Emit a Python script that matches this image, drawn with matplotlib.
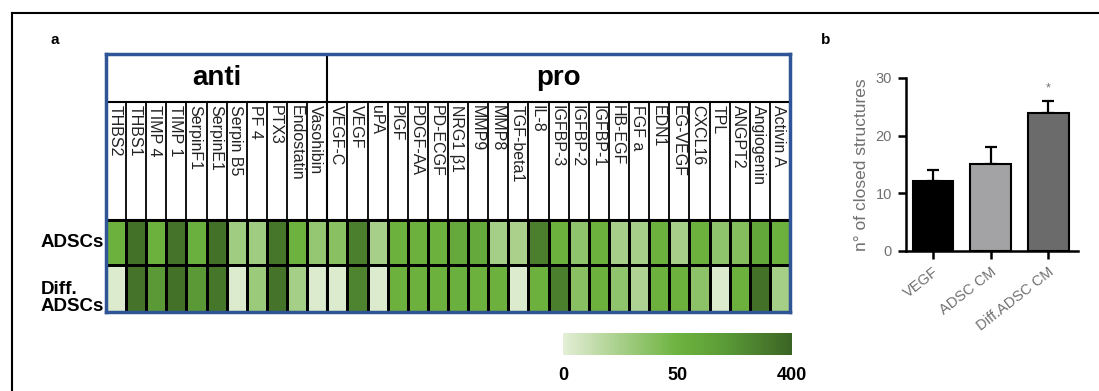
import matplotlib as mpl
import matplotlib.pyplot as plt
from matplotlib.colors import LinearSegmentedColormap, TwoSlopeNorm
from matplotlib.lines import Line2D
import numpy as np

plt.rcParams['font.family'] = ['Liberation Sans', 'DejaVu Sans']

# angiogenic factors, array layout
anti_factors = ['THBS2', 'THBS1', 'TIMP 4', 'TIMP 1', 'SerpinF1', 'SerpinE1',
                'Serpin B5', 'PF 4', 'PTX3', 'Endostatin', 'Vasohibin']
pro_factors = ['VEGF-C', 'VEGF', 'uPA', 'PlGF', 'PDGF-AA', 'PD-ECGF', 'NRG1 β1',
               'MMP9', 'MMP8', 'TGF-beta1', 'IL-8', 'IGFBP-3', 'IGFBP-2',
               'IGFBP-1', 'HB-EGF', 'FGF a', 'EDN1', 'EG-VEGF', 'CXCL16', 'TPL',
               'ANGPT2', 'Angiogenin', 'Activin A']
factors = anti_factors + pro_factors

adsc_levels = [60, 350, 60, 340, 70, 350, 28, 28, 330, 55, 33,
               38, 300, 25, 62, 60, 62, 120, 120, 26, 24, 300, 60, 35, 60,
               25, 25, 60, 25, 60, 35, 40, 130, 60]
diff_levels = [3, 340, 200, 350, 200, 330, 3, 30, 340, 26, 3,
               3, 280, 3, 60, 60, 62, 70, 60, 60, 3, 60, 300, 38, 60,
               35, 22, 60, 60, 36, 3, 60, 350, 26]
cbar_ticks = [0, 50, 400]

# tube formation assay
groups = ['VEGF', 'ADSC CM', 'Diff.ADSC CM']
closed_mean = [12.2, 15.1, 24.0]
closed_err = [1.8, 2.9, 2.0]
bar_colors = ['#000000', '#a3a3a5', '#6b6b6b']

W, H = 1099, 391


def px_rect(x0, y0, x1, y1):
    return [x0 / W, 1 - y1 / H, (x1 - x0) / W, (y1 - y0) / H]


fig = plt.figure(figsize=(W / 100, H / 100), dpi=100)

# outer frame
fig.add_artist(Line2D([12 / W, 12 / W], [0, 1 - 13 / H], color='black', lw=1.5))
fig.add_artist(Line2D([12 / W, 1], [1 - 13 / H, 1 - 13 / H], color='black', lw=1.5))

fig.text(55 / W, 1 - 40 / H, 'a', fontsize=11, fontweight='bold', ha='center', va='center')
fig.text(826 / W, 1 - 40 / H, 'b', fontsize=11, fontweight='bold', ha='center', va='center')

# ---- panel a: heatmap ----
cmap = LinearSegmentedColormap.from_list(
    'greens', [(0.0, '#e3eed6'), (0.25, '#a7cf89'), (0.5, '#6db33f'),
               (0.7, '#5c9c37'), (1.0, '#3b6424')])
norm = TwoSlopeNorm(vmin=0, vcenter=50, vmax=400)

top, head_bot, lab_bot, row_mid, bot = 54, 102, 220, 265, 312
n = len(factors)
n_anti = len(anti_factors)

ax = fig.add_axes(px_rect(106, top, 790, bot))
ax.set_xlim(0, n)
ax.set_ylim(bot, top)
mesh = ax.pcolormesh(np.arange(n + 1), [lab_bot, row_mid, bot],
                     np.array([adsc_levels, diff_levels]),
                     cmap=cmap, norm=norm, edgecolors='black', linewidth=2.0)
ax.vlines(np.arange(1, n), head_bot, lab_bot, color='black', lw=1.3)
ax.vlines(n_anti, top, bot, color='black', lw=1.5)
ax.hlines([head_bot, lab_bot], 0, n, color='black', lw=1.5)

for i, name in enumerate(factors):
    ax.text(i + 0.06, head_bot + 3, name, rotation=-90, ha='left', va='top',
            fontsize=11.5, color='#222222')

ax.text(n_anti / 2, (top + head_bot) / 2, 'anti', ha='center', va='center',
        fontsize=20, fontweight='bold')
ax.text(n_anti + (n - n_anti) / 2, (top + head_bot) / 2, 'pro', ha='center',
        va='center', fontsize=20, fontweight='bold')

ax.text(-0.1, (lab_bot + row_mid) / 2, 'ADSCs', ha='right', va='center',
        fontsize=13.5, fontweight='bold')
ax.text(-0.1, 298, 'Diff.\nADSCs', ha='right', va='center', multialignment='left',
        linespacing=0.95, fontsize=13.5, fontweight='bold')

ax.set_xticks([])
ax.set_yticks([])
for sp in ax.spines.values():
    sp.set_color('#2f5597')
    sp.set_linewidth(2.5)

# colour scale
cax = fig.add_axes(px_rect(563, 333, 792, 355))
cb = fig.colorbar(mesh, cax=cax, orientation='horizontal', ticks=cbar_ticks)
cb.outline.set_visible(False)
cax.tick_params(length=0, pad=9, labelsize=13)
for t in cax.get_xticklabels():
    t.set_fontweight('bold')

# ---- panel b: closed structures ----
grey = '#707070'
axb = fig.add_axes(px_rect(906, 78, 1078, 251))
x = np.arange(len(groups))
axb.bar(x, closed_mean, width=0.71, color=bar_colors, edgecolor='black',
        linewidth=1.5, zorder=3)
axb.errorbar(x, closed_mean, yerr=[np.zeros(len(x)), closed_err], fmt='none',
             ecolor='black', elinewidth=1.6, capsize=4.5, capthick=1.6, zorder=2)
axb.text(x[2], closed_mean[2] + closed_err[2] + 1.2, '*', ha='center', va='bottom',
         fontsize=9, color=grey)

axb.set_xlim(-0.47, 2.52)
axb.set_ylim(0, 30)
axb.set_yticks([0, 10, 20, 30])
axb.set_xticks(x)
axb.set_xticklabels(groups, rotation=38, ha='right', rotation_mode='anchor',
                    fontsize=11)
axb.spines['top'].set_visible(False)
axb.spines['right'].set_visible(False)
for s in ('left', 'bottom'):
    axb.spines[s].set_linewidth(1.8)
axb.tick_params(direction='out', length=6, width=1.8, labelcolor=grey,
                labelsize=10.5, pad=4)
axb.set_ylabel('n° of closed structures', fontsize=12.5, color=grey, labelpad=5)

plt.savefig('out.png', dpi=100)
